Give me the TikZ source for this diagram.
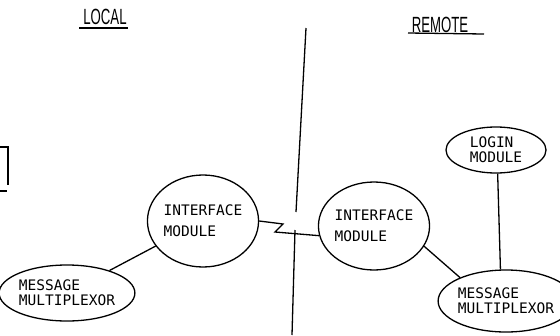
\documentclass[tikz,border=0pt]{standalone}
\usepackage{fontspec}
\setmainfont{Liberation Sans}
\newfontfamily\typefont{DejaVu Sans Mono}
\usetikzlibrary{shapes.geometric}
\begin{document}
\begin{tikzpicture}[x=1pt,y=-1pt,line width=1.3pt,
  bubble/.style={draw,ellipse,inner sep=0pt,align=left,
    font=\typefont\fontsize{14.5}{15}\selectfont},
  ifbubble/.style={bubble,font=\typefont\fontsize{14.5}{21}\selectfont},
  sidelabel/.style={inner sep=0pt,font=\fontsize{22}{22}\selectfont},
  link/.style={draw,line width=1.3pt}]
\useasboundingbox (0,0) rectangle (560,335);
\clip (0,0) rectangle (560,335);
% side labels
\node[sidelabel] (local) at (105,17) {\scalebox{0.6}[1]{LOCAL}};
\node[sidelabel] (remote) at (440,25) {\scalebox{0.6}[1]{REMOTE}};
\draw (79,28) -- (128,28);
\draw (408,33) -- (484,34);
% partial box at left edge
\draw (0,147) -- (8,147) -- (8,185);
\draw (0,191) -- (7,191);
% divider
\draw (306,28) -- (296,212);
\draw (295,230) -- (292,335);
% nodes
\node[ifbubble,minimum width=92pt,minimum height=92pt] (li) at (203,221) {INTERFACE\\MODULE};
\node[bubble,minimum width=112pt,minimum height=56pt] (lm) at (67,293) {MESSAGE\\MULTIPLEXOR};
\node[ifbubble,minimum width=95pt,minimum height=88pt] (ri) at (374,226) {INTERFACE\\MODULE};
\node[bubble,minimum width=108pt,minimum height=62pt] (rm) at (506,301) {MESSAGE\\MULTIPLEXOR};
\node[bubble,minimum width=100pt,minimum height=46pt] (login) at (496,150) {LOGIN\\MODULE};
% connectors
\coordinate (z1) at (283,224);
\coordinate (z2) at (275,232);
\draw[link] (li.east) -- (z1) -- (z2) -- (ri.190);
\draw[link] (lm) -- (li);
\draw[link] (ri.-22) -- (rm.153);
\draw[link] (login.-86) -- (rm.100);
\end{tikzpicture}
\end{document}
